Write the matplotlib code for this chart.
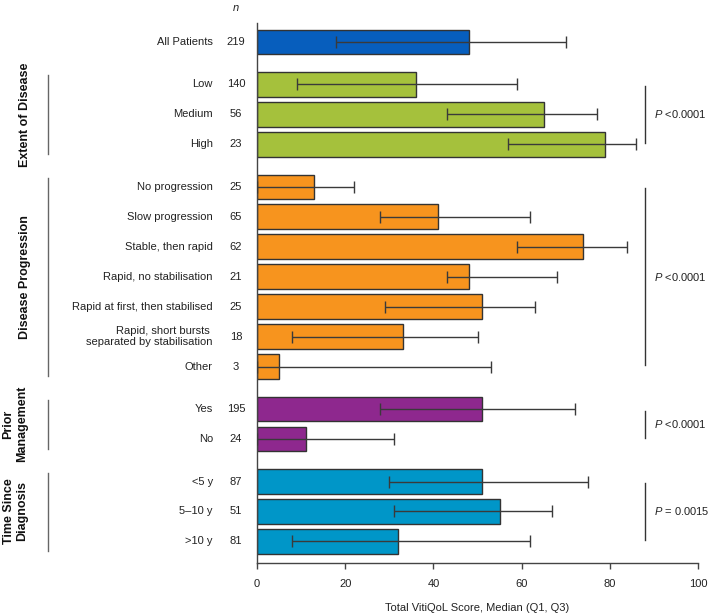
import matplotlib
matplotlib.use('Agg')
import matplotlib.pyplot as plt
import matplotlib.transforms as mtransforms

plt.rcParams['font.family'] = ['Liberation Sans', 'DejaVu Sans']
plt.rcParams['mathtext.fontset'] = 'custom'
plt.rcParams['mathtext.it'] = 'Liberation Sans:italic'
plt.rcParams['mathtext.rm'] = 'Liberation Sans'

# groups in order from top, each with its own categories
group_names = ['', 'Extent of Disease', 'Disease Progression', 'Prior\nManagement', 'Time Since\nDiagnosis']
group_cats = [
    ['All Patients'],
    ['Low', 'Medium', 'High'],
    ['No progression', 'Slow progression', 'Stable, then rapid', 'Rapid, no stabilisation',
     'Rapid at first, then stabilised', 'Rapid, short bursts \nseparated by stabilisation', 'Other'],
    ['Yes', 'No'],
    ['<5 y', '5\u201310 y', '>10 y'],
]
group_n = [[219], [140, 56, 23], [25, 65, 62, 21, 25, 18, 3], [195, 24], [87, 51, 81]]
group_median = [[48], [36, 65, 79], [13, 41, 74, 48, 51, 33, 5], [51, 11], [51, 55, 32]]
group_q1 = [[18], [9, 43, 57], [0, 28, 59, 43, 29, 8, 0], [28, 0], [30, 31, 8]]
group_q3 = [[70], [59, 77, 86], [22, 62, 84, 68, 63, 50, 53], [72, 31], [75, 67, 62]]
group_p = [None, '$P$ <0.0001', '$P$ <0.0001', '$P$ <0.0001', '$P$ = 0.0015']
group_colors = ['#075EBD', '#A5C13C', '#F7941E', '#8E288E', '#0096C8']

fig = plt.figure(figsize=(7.09, 6.16), dpi=100)
ax = fig.add_axes([257 / 709, 1 - 562.7 / 616, 441 / 709, 540 / 616])

row = 1.0
gap = 0.42
pos = 0.0
trans = mtransforms.blended_transform_factory(ax.transAxes, ax.transData)
fig_px = mtransforms.blended_transform_factory(
    mtransforms.Affine2D().scale(1 / 709, 1) + fig.transFigure, ax.transData)
for g, cats in enumerate(group_cats):
    ys = []
    for i, cat in enumerate(cats):
        ys.append(pos)
        pos += row
    pos += gap
    med = group_median[g]
    lo = [m - q for m, q in zip(med, group_q1[g])]
    hi = [q - m for m, q in zip(med, group_q3[g])]
    ax.barh(ys, med, height=0.82, color=group_colors[g], edgecolor='#333333', linewidth=1, zorder=2)
    ax.errorbar(med, ys, xerr=[lo, hi], fmt='none', ecolor='#3a3a3a', elinewidth=1,
                capsize=4.3, capthick=1, zorder=3)
    for y, cat, n in zip(ys, cats, group_n[g]):
        ax.text(-0.1, y, cat, transform=trans, ha='right', va='center', fontsize=8,
                color='#222222', clip_on=False)
        ax.text(-0.0476, y, str(n), transform=trans, ha='center', va='center', fontsize=8,
                color='#222222', clip_on=False)
    if group_names[g]:
        # left group bracket and rotated title
        ax.plot([48, 48], [ys[0] - 0.3, ys[-1] + 0.32], transform=fig_px, color='#666666',
                lw=1, clip_on=False)
        xl = 15.5 if '\n' in group_names[g] else 25
        ax.text(xl, (ys[0] + ys[-1]) / 2, group_names[g], transform=fig_px, rotation=90,
                ha='center', va='center', fontsize=9, fontweight='bold', color='#111111',
                linespacing=1.2, clip_on=False)
    if group_p[g]:
        ax.plot([88, 88], [ys[0] + 0.05, ys[-1] - 0.05], color='#333333', lw=1, clip_on=False)
        ax.text(90, (ys[0] + ys[-1]) / 2, group_p[g], ha='left', va='center', fontsize=8,
                color='#222222', clip_on=False)

ax.set_xlim(0, 100)
ax.set_ylim(pos - gap - row + 0.71, -0.64)
ax.set_yticks([])
ax.set_xticks([0, 20, 40, 60, 80, 100])
ax.tick_params(axis='x', length=4, width=1, color='#444444', labelsize=8, pad=8, labelcolor='#222222')
for s in ['top', 'right']:
    ax.spines[s].set_visible(False)
for s in ['left', 'bottom']:
    ax.spines[s].set_color('#444444')
    ax.spines[s].set_linewidth(1)
ax.set_xlabel('Total VitiQoL Score, Median (Q1, Q3)', fontsize=8, labelpad=10, color='#222222')
ax.text(-0.0476, 1.028, '$n$', transform=ax.transAxes, ha='center', va='center', fontsize=8,
        color='#222222')

fig.savefig('out.png', dpi=100)
